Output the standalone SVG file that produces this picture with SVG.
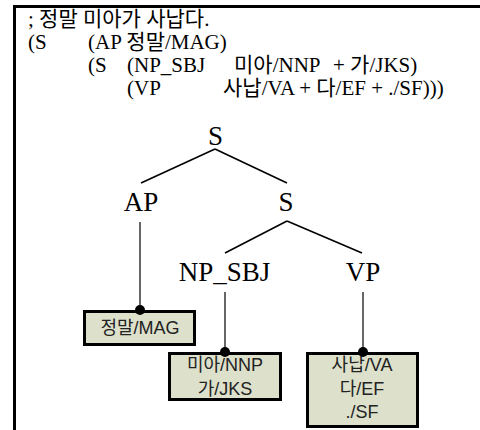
<svg xmlns="http://www.w3.org/2000/svg" width="480" height="430" viewBox="0 0 480 430">
<style>
.hdr{font-family:"Liberation Serif","Noto Sans CJK KR",serif;font-size:21px;fill:#000}
.lbl{font-family:"Liberation Serif","Noto Sans CJK KR",serif;font-size:27px;fill:#000;text-anchor:middle}
.box{fill:#dde0cb;stroke:#000;stroke-width:3}
.btx{font-family:"Liberation Sans","Noto Sans CJK KR",sans-serif;font-size:18px;fill:#222;text-anchor:middle}
.edge{stroke:#000;stroke-width:1.6;fill:none}
.vln{stroke:#000;stroke-width:1.2;fill:none}
.dot{fill:#000}
</style>
<rect width="480" height="430" fill="#fff"/>
<g id="frame">
<line x1="13" y1="6.5" x2="480" y2="6.5" stroke="#000" stroke-width="3"/>
<line x1="14.5" y1="5" x2="14.5" y2="430" stroke="#000" stroke-width="3"/>
</g>
<g id="header">
<text class="hdr" x="28" y="26">; 정말 미아가 사납다.</text>
<text class="hdr" x="28" y="49">(S</text>
<text class="hdr" x="88" y="49">(AP 정말/MAG)</text>
<text class="hdr" x="88" y="72">(S</text>
<text class="hdr" x="127" y="72">(NP_SBJ</text>
<text class="hdr" x="234" y="72">미아/NNP</text>
<text class="hdr" x="333" y="72">+ 가/JKS)</text>
<text class="hdr" x="127" y="95">(VP</text>
<text class="hdr" x="223" y="95">사납/VA + 다/EF + ./SF)))</text>
</g>
<g id="connectors">
<line class="edge" x1="215" y1="149" x2="141" y2="183"/>
<line class="edge" x1="215" y1="149" x2="287" y2="183"/>
<line class="edge" x1="287" y1="221" x2="225" y2="253"/>
<line class="edge" x1="287" y1="221" x2="362" y2="253"/>
<line class="vln" x1="140" y1="222" x2="140" y2="310"/>
<line class="vln" x1="225" y1="292" x2="225" y2="352"/>
<line class="vln" x1="363" y1="292" x2="363" y2="352"/>
</g>
<g id="node-S-root"><text class="lbl" x="215.5" y="145">S</text></g>
<g id="node-AP"><text class="lbl" x="141" y="211">AP</text></g>
<g id="node-S"><text class="lbl" x="286" y="211">S</text></g>
<g id="node-NP_SBJ"><text class="lbl" x="224.5" y="281">NP_SBJ</text></g>
<g id="node-VP"><text class="lbl" x="363" y="281">VP</text></g>
<g id="leaf-MAG">
<rect class="box" x="84.5" y="311.5" width="110" height="33"/>
<text class="btx" x="140" y="334">정말/MAG</text>
<circle class="dot" cx="140" cy="310" r="5"/>
</g>
<g id="leaf-NNP">
<rect class="box" x="169.5" y="353.5" width="111" height="46"/>
<text class="btx" x="225" y="371">미아/NNP</text>
<text class="btx" x="225" y="395">가/JKS</text>
<circle class="dot" cx="225" cy="352" r="5"/>
</g>
<g id="leaf-VA">
<rect class="box" x="307.5" y="353.5" width="110" height="73"/>
<text class="btx" x="362" y="371">사납/VA</text>
<text class="btx" x="362" y="395">다/EF</text>
<text class="btx" x="362" y="418">./SF</text>
<circle class="dot" cx="363" cy="352" r="5"/>
</g>
</svg>
